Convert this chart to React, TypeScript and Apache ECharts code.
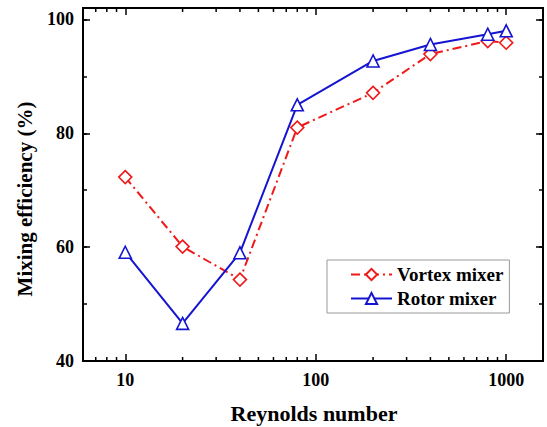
import React, { useEffect, useRef } from "react";
import * as echarts from "echarts";

const reynolds = [10, 20, 40, 80, 200, 400, 800, 1000];
const vortexMixer = [72.3, 60.1, 54.3, 81.0, 87.1, 93.9, 96.2, 95.9];
const rotorMixer = [59.1, 46.6, 59.0, 85.0, 92.7, 95.6, 97.4, 98.0];
const xMajorTicks = [10, 100, 1000];
const xMinorTicks = [7, 8, 9, 20, 30, 40, 50, 60, 70, 80, 90, 200, 300, 400, 500, 600, 700, 800, 900];
const yMajorTicks = [40, 60, 80, 100];

const X_MIN = 6;
const X_MAX = 1560;
const Y_MIN = 40;
const Y_MAX = 102;

const FONT = "'Liberation Serif', 'Times New Roman', serif";

export default function App() {
  const ref = useRef<HTMLDivElement>(null);
  useEffect(() => {
    if (!ref.current) return;
    const chart = echarts.init(ref.current, undefined, { renderer: "svg" });
    const labelStyle = { fontFamily: FONT, fontWeight: "bold" as const, fontSize: 18, color: "#000" };
    const axisLine = { show: true, lineStyle: { color: "#000", width: 2 } };
    const tickLine = { color: "#000", width: 1.5 };

    const mkX = (pos: string, labels: boolean) => ({
      type: "log",
      logBase: 10,
      min: X_MIN,
      max: X_MAX,
      position: pos,
      axisLine,
      axisTick: { show: true, inside: true, length: 7, lineStyle: tickLine },
      axisLabel: labels
        ? {
            show: true,
            margin: 10,
            formatter: (v: number) => (xMajorTicks.includes(Math.round(v)) && Math.abs(v - Math.round(v)) < 1e-6 ? String(Math.round(v)) : ""),
            ...labelStyle,
          }
        : { show: false },
      splitLine: { show: false },
      minorTick: { show: false },
    });
    const mkY = (pos: string, interval: number, len: number, labels: boolean) => ({
      type: "value",
      min: Y_MIN,
      max: Y_MAX,
      interval,
      position: pos,
      axisLine,
      axisTick: { show: true, inside: true, length: len, lineStyle: tickLine },
      axisLabel: labels
        ? {
            show: true,
            margin: 9,
            formatter: (v: number) => (yMajorTicks.includes(v) ? String(v) : ""),
            ...labelStyle,
          }
        : { show: false },
      splitLine: { show: false },
    });

    // minor x ticks drawn as short data-space segments on the log axis
    const minorLenBottom = 0.7; // in y data units
    const minorTickData: any[] = [];
    xMinorTicks.forEach((v) => {
      minorTickData.push([v, Y_MIN], [v, Y_MIN + minorLenBottom], [v, "-"]);
      minorTickData.push([v, Y_MAX], [v, Y_MAX - minorLenBottom], [v, "-"]);
    });

    chart.setOption({
      animation: false,
      backgroundColor: "#fff",
      grid: { left: 83, right: 4, top: 8, bottom: 66, containLabel: false },
      xAxis: [mkX("bottom", true), mkX("top", false)],
      yAxis: [
        mkY("left", 20, 7, true),
        mkY("left", 10, 4, false),
        mkY("right", 20, 7, false),
        mkY("right", 10, 4, false),
      ],
      legend: {
        orient: "vertical",
        left: 327,
        top: 260,
        width: 184,
        itemWidth: 41,
        itemHeight: 14,
        itemGap: 5,
        padding: [5, 6, 5, 23],
        borderColor: "#999",
        borderWidth: 1,
        backgroundColor: "#fff",
        textStyle: { fontFamily: FONT, fontWeight: "bold", fontSize: 19, color: "#000" },
        data: ["Vortex mixer", "Rotor mixer"],
      },
      graphic: [
        {
          type: "text",
          x: 314,
          y: 413,
          style: {
            text: "Reynolds number",
            font: `bold 22px ${FONT}`,
            fill: "#000",
            align: "center",
            verticalAlign: "middle",
          },
        },
        {
          type: "text",
          x: 25,
          y: 199,
          rotation: Math.PI / 2,
          style: {
            text: "Mixing efficiency (%)",
            font: `bold 21px ${FONT}`,
            fill: "#000",
            align: "center",
            verticalAlign: "middle",
          },
        },
      ],
      series: [
        {
          name: "minor ticks",
          type: "line",
          xAxisIndex: 0,
          yAxisIndex: 0,
          data: minorTickData,
          symbol: "none",
          connectNulls: false,
          silent: true,
          lineStyle: { color: "#000", width: 1.5 },
          z: 1,
        },
        {
          name: "Vortex mixer",
          type: "line",
          xAxisIndex: 0,
          yAxisIndex: 0,
          data: reynolds.map((r, i) => [r, vortexMixer[i]]),
          symbol: "diamond",
          symbolSize: 13,
          itemStyle: { color: "#fff", borderColor: "#f01818", borderWidth: 1.6 },
          lineStyle: { color: "#f01818", width: 2, type: [9, 4, 2, 4] },
          color: "#f01818",
          z: 3,
        },
        {
          name: "Rotor mixer",
          type: "line",
          xAxisIndex: 0,
          yAxisIndex: 0,
          data: reynolds.map((r, i) => [r, rotorMixer[i]]),
          symbol: "triangle",
          symbolSize: 12,
          itemStyle: { color: "#fff", borderColor: "#1414d2", borderWidth: 1.6 },
          lineStyle: { color: "#1414d2", width: 2 },
          color: "#1414d2",
          z: 4,
        },
      ],
    });
    return () => chart.dispose();
  }, []);
  return <div ref={ref} style={{ width: 547, height: 427, position: "absolute", left: 0, top: 0 }} />;
}
